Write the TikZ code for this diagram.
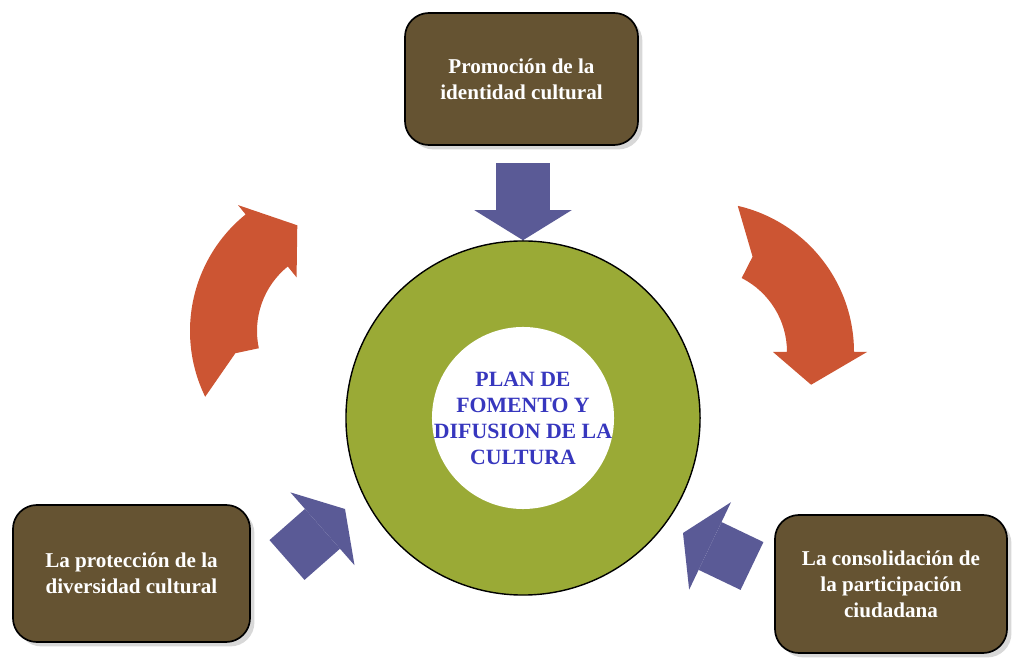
\documentclass[tikz,border=0pt]{standalone}
\usepackage{fontspec}
\setmainfont{Liberation Serif}
\usepackage{xcolor}
\usepackage{tikz}
\usetikzlibrary{arrows.meta}
\usetikzlibrary{shadows}
\usetikzlibrary{calc}

\definecolor{boxbrown}{RGB}{101,83,50}
\definecolor{ringgreen}{RGB}{154,170,54}
\definecolor{pushblue}{RGB}{90,90,150}
\definecolor{turnorange}{RGB}{204,85,51}
\definecolor{titleblue}{RGB}{55,55,190}

\begin{document}
\begin{tikzpicture}[x=0.025cm, y=0.025cm]

                \tikzstyle{topic} = [draw=black, line width=1.2pt, fill=boxbrown, rounded corners=0.6cm, text=white, align=center, font=\fontsize{15}{18.5}\selectfont\bfseries, drop shadow={shadow xshift=0.11cm, shadow yshift=-0.11cm, fill=black!30}]
                \tikzstyle{push}  = [draw=pushblue, line width=1.325cm, -{Triangle[width=2.425cm, length=0.75cm, line width=0pt]}]
                \tikzstyle{turn}  = [fill=turnorange]
                \useasboundingbox (0,0) rectangle (1013,658);

                \node [circle, draw, line width=1pt, fill=ringgreen, minimum size=8.85cm] (ring) at (523,240) {};
                \node [circle, fill=white, minimum size=4.55cm] (hub) at (ring) {};
                \node [align=center, text=titleblue, font=\fontsize{15.5}{18.5}\selectfont\bfseries] (plan) at (hub) {PLAN DE\\FOMENTO Y\\DIFUSION DE LA\\CULTURA};

                \node [topic, minimum width=5.825cm, minimum height=3.3cm] (promo) at (521.5,579) {Promoción de la\\identidad cultural};
                \node [topic, minimum width=5.925cm, minimum height=3.425cm] (proteccion) at (131.5,84.5) {La protección de la\\diversidad cultural};
                \node [topic, minimum width=5.8cm, minimum height=3.45cm] (consolidacion) at (891,74) {La consolidación de\\la participación\\ciudadana};

                \coordinate (p1) at ($(ring.north)+(0,77)$);
                \coordinate (p2) at (287,98);
                \coordinate (q2) at (345,149);
                \coordinate (p3) at (752,92);
                \coordinate (q3) at (683,125);
                \draw [push] (p1) -- (ring.north);
                \draw [push] (p2) -- (q2);
                \draw [push] (p3) -- (q3);

                \coordinate (c1) at (340,327);
                \coordinate (c2) at (704,306);
		\fill [turn] ($(c1)+(192:83)$) arc[start angle=192, end angle=129, radius=83] -- ($(c1)+(129:69)$) -- ($(c1)+(112:114)$) -- ($(c1)+(129:162)$) -- ($(c1)+(129:150)$) arc[start angle=129, end angle=206, radius=150] -- ($(c1)+(192:107)$) -- cycle;
		\fill [turn] ($(c2)+(63:83)$) arc[start angle=63, end angle=0, radius=83] -- ($(c2)+(0:69)$) -- ($(c2)+(-17:112)$) -- ($(c2)+(0:163)$) -- ($(c2)+(0:150)$) arc[start angle=0, end angle=77, radius=150] -- ($(c2)+(63:107)$) -- cycle;
\end{tikzpicture}
\end{document}
